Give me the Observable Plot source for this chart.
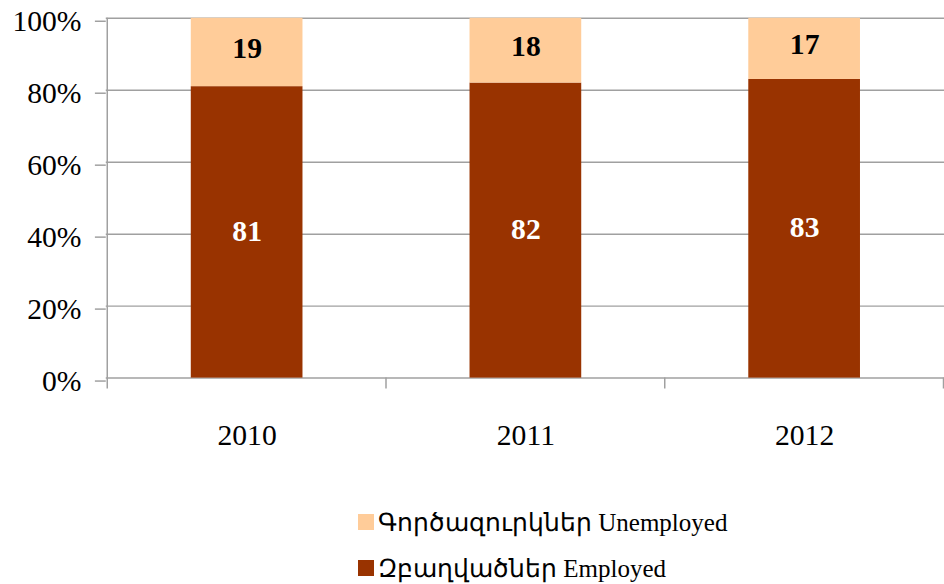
<!DOCTYPE html>
<html><head><meta charset="utf-8">
<script src="https://cdn.jsdelivr.net/npm/d3@7"></script>
<script src="https://cdn.jsdelivr.net/npm/@observablehq/plot@0.6"></script>
<style>
body{margin:0;background:#fff;}
#wrap{position:relative;width:944px;height:584px;overflow:hidden;}
#legend{position:absolute;left:358px;top:499px;font-family:"Liberation Serif",serif;font-size:25px;color:#000;}
.row{height:46px;display:flex;align-items:center;white-space:nowrap;}
.sw{width:16px;height:16px;margin-right:4px;flex:none;}
#chart svg text{font-family:"Liberation Serif",serif !important;}
</style></head><body>
<div id="wrap"><div id="chart"></div><div id="legend"></div></div>
<script>
const years = ["2010", "2011", "2012"];
const employed = [81, 82, 83];
const unemployed = [19, 18, 17];
const seriesKeys = ["Employed", "Unemployed"];
const seriesColors = ["#993300", "#FFCC99"];
const legendKeys = ["Unemployed", "Employed"];
const legendLabels = ["Գործազուրկներ Unemployed", "Զբաղվածներ Employed"];
const yTicks = [0, 20, 40, 60, 80, 100];

const rows = years.flatMap((yr, i) => [
  {year: yr, series: "Employed", value: employed[i]},
  {year: yr, series: "Unemployed", value: unemployed[i]}
]);

const grid = "#a0a0a0";
const font = "Liberation Serif";

const chart = Plot.plot({
  width: 955,
  height: 480,
  marginLeft: 107,
  marginRight: 0,
  marginTop: 18,
  marginBottom: 98,
  style: {fontFamily: font, fontSize: "30px", color: "#000", background: "transparent"},
  x: {domain: years, paddingInner: 0.6, paddingOuter: 0.3, label: null},
  y: {domain: [0, 100], label: null},
  color: {domain: seriesKeys, range: seriesColors},
  marks: [
    Plot.ruleY(yTicks, {stroke: grid, strokeWidth: 1.5}),
    Plot.barY(rows, Plot.stackY({x: "year", y: "value", fill: "series", z: "series"})),
    Plot.text(rows, Plot.stackY({x: "year", y: "value", z: "series",
      text: d => d.series === "Employed" ? d.value : "",
      fill: "white", fontWeight: "bold", fontSize: 30, fontFamily: font, dy: -1})),
    Plot.text(rows, Plot.stackY({x: "year", y: "value", z: "series",
      text: d => d.series === "Unemployed" ? d.value : "",
      fill: "black", fontWeight: "bold", fontSize: 30, fontFamily: font, dy: -4})),
    Plot.axisY({ticks: yTicks, tickSize: 11, tickPadding: 14, stroke: grid, strokeWidth: 1.5,
      tickFormat: d => d + "%", dy: 3, fontSize: 30, fontFamily: font, label: null}),
    Plot.axisX({tickSize: 0, tickPadding: 46, fontSize: 30, fontFamily: font, label: null})
  ]
});

// band-edge ticks and the y axis line, from the chart's own scales
const xs = chart.scale("x");
const ys = chart.scale("y");
const step = xs.step, bw = xs.bandwidth;
const edges = years.map(v => xs.apply(v) - (step - bw) / 2);
edges.push(xs.apply(years[years.length - 1]) + bw + (step - bw) / 2);
const y0 = ys.apply(0), y100 = ys.apply(100);
const svg = d3.select(chart.tagName.toLowerCase() === "svg" ? chart : chart.querySelector("svg"));
const g = svg.append("g").attr("stroke", grid).attr("stroke-width", 1.5);
g.append("line").attr("x1", edges[0]).attr("x2", edges[0]).attr("y1", y100).attr("y2", y0 + 11);
edges.slice(1).forEach(x => g.append("line").attr("x1", x).attr("x2", x).attr("y1", y0).attr("y2", y0 + 11));

document.getElementById("chart").appendChild(chart);

const legend = d3.select("#legend");
legendKeys.forEach((k, i) => {
  const r = legend.append("div").attr("class", "row");
  r.append("div").attr("class", "sw").style("background", seriesColors[seriesKeys.indexOf(k)]);
  r.append("span").text(legendLabels[i]);
});
</script>
</body></html>
